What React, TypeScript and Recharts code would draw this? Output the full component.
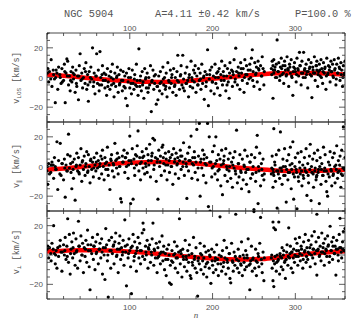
import React from 'react';
import { ComposedChart, Scatter, Line, XAxis, YAxis } from 'recharts';

// position angle of each star (shared by all three panels)
const ANGLES = [
  0, 1, 2, 3, 5, 6, 8, 9, 10, 11, 12, 13, 14,
  16, 17, 18, 20, 21, 22, 23, 24, 25, 26, 27, 28, 29,
  30, 31, 32, 33, 34, 35, 36, 37, 38, 39, 40, 41, 42, 43, 44,
  45, 46, 47, 48, 49, 50, 51, 52, 53, 54, 55, 56, 57, 58, 59, 60,
  61, 62, 63, 64, 65, 66, 67, 68, 69, 70, 71, 72, 73, 74,
  75, 76, 77, 78, 79, 80, 81, 82, 83, 84, 85, 86, 87, 88, 89, 90,
  91, 92, 93, 94, 95, 96, 97, 98, 99, 100, 101, 102, 103, 104,
  105, 106, 107, 108, 109, 110, 111, 112, 113, 114, 115, 116, 117, 118, 119,
  120, 121, 122, 123, 124, 125, 126, 127, 128, 129, 130, 131, 132, 133, 134,
  135, 136, 137, 138, 139, 140, 141, 142, 143, 144, 145, 146, 147, 148, 149, 150,
  151, 152, 153, 154, 155, 156, 157, 158, 159, 160, 161, 162, 163, 164, 165,
  166, 167, 168, 169, 170, 171, 172, 173, 174, 175, 176, 177, 178, 179,
  180, 181, 182, 183, 184, 185, 186, 187, 188, 189, 190, 191, 192, 193, 194, 195, 196, 197,
  198, 199, 200, 201, 202, 203, 204, 205, 206, 207, 208, 209, 210, 211, 212,
  213, 214, 215, 216, 217, 218, 219, 220, 221, 222, 223, 224, 225, 226, 227, 228, 229,
  230, 231, 232, 233, 234, 235, 236, 237, 238, 239, 240, 241, 242, 243, 244, 245,
  246, 247, 248, 249, 250, 251, 252, 253, 254, 255, 256, 257, 258, 259, 260, 261, 262,
  271, 272, 273, 273, 274, 274, 275, 276, 277, 278, 279, 280, 281, 282, 283, 284, 285,
  286, 287, 288, 289, 290, 291, 292, 293, 294, 295, 296, 297, 298, 299, 300,
  301, 302, 303, 304, 305, 306, 307, 308, 309, 310, 311, 312, 313, 314, 315,
  316, 317, 318, 319, 320, 321, 322, 323, 324, 325, 326, 326, 327, 328, 329,
  330, 331, 332, 333, 334, 335, 336, 337, 338, 339, 340, 341, 342, 343, 344, 345,
  346, 347, 348, 349, 350, 351, 352, 353, 354, 355, 356, 357, 358, 359, 360,
];

const V_LOS = [
  30, 6, -3, 4, 12, -6, 2, -1, -17, 5, 3, -8, 7,
  0, -4, 6, -2, 9, -17, 3, 12.5, 11, -5, 1, -9, 4,
  -3, 7, -1, 2, -10, 5, -6, 1, -15, 8, 16, -2, 3, -7, 0,
  6, -4, 10, -8, 2, -16, 4, -3, 7, -1, 20, -6, 3, -11, 1, 16,
  -4, 5, -9, 17.5, 0, -5, 8, -2, 3, -7, 2, -12, 6, -3,
  1, -8, 4, -5, 9, -1, -13, 3, -6, 0, 7, -10, 2, -4, 5, -2,
  -9, 4, -6, 1, -14, 3, -19, -3, 6, -7, 0, -11, 5, -4,
  -8, 2, -5, 9, -2, -12, 19.3, -6, 1, -9, 4, -3, -14, 6, -1,
  -7, 3, -10, 0, -5, 8, -23, -2, 5, -8, -4, 2, -18, -6, -15,
  1, -9, 4, -3, -11, 7, -5, 0, -8, 3, -13, 10, -2, -7, 5, -4,
  2, -10, 6, -6, 0, -12, 4, 15, -3, -8, 1, 8, -5, 15, -1,
  -9, 3, -4, 7, -2, -13, 2, -6, 11, 0, -7, 5, -3, 8,
  -10, 1, -5, 6, -2, 3, -8, 9, -4, 0, -14.7, 4, -6, 2, 18.7, -19, -1, 5,
  -9, 7, -3, 1, -11, 9, -4, 3, -7, 0, 6, -12, 2, 11, -5,
  4, -2, 8, -9, 1, 6, -3, -14, 10, 0, 5, -6, 2, 12, -3, 19.8, 4,
  -5, 7, 1, -8, 10, 3, -2, 6, -10, 12, 2, 8, -4, 5, -1, 9,
  0, 13, 18.7, 4, -6, 10, 2, 7, -3, 11, 5, -8, 8, 1, 14, 6, -5,
  6, 11, -14, 8, 3, 12, 5, 0, 9, 25.3, 4, 10, -2, 7, 13, 2, 8,
  -4, 11, 5, 1, 14, 6, -6, 9, 3, 12, 0, -12, 7, 10, 4,
  -3, 13, 6, 1, 17, 8, -5, 11, 3, 17, 5, 0, 9, 4, -7,
  12, 6, 2, 10, -13.5, 7, 3, 14, -2, 8, 5, 11, -6, 4, 9,
  1, 12, 6, -4, 10, 3, 7, -8, 13, 2, 8, 5, -3, 11, 4, 9,
  0, 12, 6, -5, 9, 3, 13, 7, -2, 10, 5, -6, 8, 2, 11,
];

const V_PAR = [
  -3, -12, 2, -5, 1, 3, -8, 6, 0, -2, 16.7, -15.5, 4,
  15.6, -6, 2, -9, 5, -20.7, 1, -3, 8, 21.8, -1, 7, -4,
  -15, 3, -8, 5, -22.7, 0, 9, -3, 6, -5, 1, 12, -10, 4, -2,
  7, -6, 2, 10, -4, 8, 0, -11, 5, -2, 3, -7, 6, 1, -3, 9,
  -1, 4, -8, 2, 7, -5, 11, 0, -9, 6, -2, 3, 13, -6,
  1, -15.5, 5, 8, -3, 2, -7, 15.6, 4, -1, 9, -5, 6, 0, -21.7, -24,
  7, 3, 11, -4, 6, 0, 9, -8, 4, 20.5, -25, 2, 12, -22,
  5, -6, 8, 1, 14, 24, -3, 6, -9, 3, 10, -1, 7, -5, 2,
  12, -4, 8, 1, 15, -7, 4, 9, 19, -2, 17.8, 6, -10, 3, -22,
  11, 0, 7, -6, 13, 14.5, 2, -3, 9, 5, -9, 1, 10, -4, 6, 0,
  8, -12, 12, 3, -5, 9, 1, 6, -8, 4, 11, -2, 7, 0, 16,
  -6, 5, 2, -21.5, 9, -3, 13, 4, 20.5, -8, 6, 1, 10, -4,
  3, 25, -9, 7, 29, -20, 5, -1, 11, -6, 8, 2, -11, 6, 29, -27, 20, -30,
  3, -7, 10, 0, 14, -5, 20, 4, -9, 8, -2, 5, -13, 11, -19,
  2, 7, -6, 12, 0, -10, 5, -3, 9, -8, 3, -14, 6, -1, 10, -5, 24.5,
  -11, 2, -7, 8, -3, -15, 5, -9, 1, 11, -4, -12, 7, -2, -17, 3,
  -8, 8, -5, 0, -29, 6, -10, 13, 21, -25, -3, 9, -13, 2, -6, 5, -9,
  -5, 7, -2, -14, 25.5, -6, 3, -10, 8, -28, -3, 11, -8, 23.3, -1, -12, 5,
  -6, 12, 0, -24, 4, -9, 8, -4, 13, -15, 2, 16.7, -22, -7, 6,
  -2, -28.5, 9, -10, 3, -5, 10, -13, 1, -8, 6, -3, 12, -19.5, 2,
  -11, 7, 15, -23, -4, 5, -14, 9, -1, -9, 4, -6, 11, -2, -25,
  6, -12, 2, -6, 13, -3, 8, -10, -17, -20, 3, -7, 10, -2, -13, 6,
  -5, 9, -11, 1, 14, -8, 4, -3, 7, -14, 11, -6, 26.7, -1, 6,
];

const V_PERP = [
  4, 6, -2, 5, -4, 8, 20, 1, -6, 3, -9, 5, -1,
  10, 2, -11, 7, 0, 12, -3, 6, 24.7, -5, 14, -13, 4,
  9, -2, 15, 1, -7, 11, 3, -9, 23, 6, -4, 13, 0, 8, -12,
  5, -1, 10, -5, 17, 3, -8, -23.7, 7, 1, 12, -3, 6, -10, 9, 2,
  14, -6, 4, 8, -2, 11, -13, 5, 0, -16.7, 18, 7, -4, -28.7,
  10, 3, -9, 12, 1, 6, -6, 9, 15, -1, 4, -12, 8, 13, -3, 5,
  0, 10, -7, 24, 2, -21, 7, -2, 11, 3, -8, -26.4, 6, 14,
  -4, 9, 1, -11, 5, 12, -2, 8, -6, 3, 15, 21.8, 17.3, -3, 6,
  0, 10, -9, 4, 7, -5, 2, 11, 21.8, -7, 3, -2, 8, -12, 5,
  -1, 9, -6, 2, 13, -4, 6, -10, 1, -14, 4, -3, 7, -19, -7, -20,
  3, -5, 0, 9, -9, -2, 6, -12, 2, 24.7, -6, 1, -15, 4, -3,
  -8, 10, -1, -11, 3, -5, 7, -14, -16, 1, -7, 12, -3, -9,
  5, -12, -28, -2, -6, 8, -10, 0, -4, -13, 6, -8, 2, -15, -5, 3, -9, -1,
  -19.3, 4, -7, -12, 2, -4, -10, 7, -3, -14, 0, 26, -6, -11, 3,
  -8, 10, -2, -13, 5, -5, -9, 1, -16, -19, 8, -4, -11, 2, -7, 27.8, -3,
  -9, 4, -12, -1, -6, 9, -14, 0, -5, -10, 3, -8, -2, 11, -7, -23.7,
  -4, 6, -11, -2, 29.6, -9, 4, -14, -5, 1, -8, 8, 25.6, -3, -12, 2, -17.5,
  -2, -9, -17.5, 22.5, 18.5, -21.5, -6, 17.3, -11, 0, -4, 22.5, -13, -1, -8, 5, -10,
  3, -5, -16, -3, 7, -7, 18.5, -2, 6, -9, 2, -12, 4, -5, 11,
  -1, 8, -7, 3, 12, -4, 6, 0, -9, 9, 2, 14, -5, 5, -3,
  10, 1, -8, 7, 13, -2, 4, 16, -6, 9, 27.8, -13.7, 3, 12, -1,
  6, -4, 15, 2, 8, -7, 11, 4, -1, 13, 7, -5, 19.6, 3, 9, -3,
  12, 1, 6, -13.7, 10, 4, -4, 14, 25, 5, -2, 9, 16, 3, 18,
];

// the dense core of stars sitting close to the fitted curves
const CORE_ANGLES = [
  0.5, 4.5, 7.5, 10.5, 15.5, 18.5, 21.5, 24.5,
  28.5, 31.5, 35.5, 38.5, 42.5, 46.5, 49.5, 52.5,
  56.5, 59.5, 63.5, 66.5, 70.5, 73.5, 77.5, 80.5,
  84.5, 87.5, 91.5, 94.5, 98.5, 101.5, 105.5, 108.5,
  112.5, 115.5, 119.5, 122.5, 126.5, 129.5, 133.5, 136.5,
  140.5, 143.5, 147.5, 150.5, 154.5, 157.5, 161.5, 164.5,
  168.5, 171.5, 175.5, 178.5, 182.5, 185.5, 189.5, 192.5,
  196.5, 199.5, 203.5, 206.5, 210.5, 213.5, 217.5, 220.5,
  224.5, 227.5, 231.5, 234.5, 238.5, 241.5, 245.5, 248.5,
  252.5, 255.5, 259.5, 262.5, 271.5, 273.5, 275.5, 277.5,
  279.5, 281.5, 283.5, 285.5, 287.5, 289.5, 291.5, 293.5,
  295.5, 297.5, 299.5, 301.5, 303.5, 305.5, 307.5, 309.5,
  311.5, 313.5, 315.5, 317.5, 319.5, 321.5, 323.5, 325.5,
  327.5, 329.5, 331.5, 333.5, 335.5, 337.5, 339.5, 341.5,
  343.5, 345.5, 347.5, 349.5, 351.5, 353.5, 355.5, 357.5,
  359.5,
];

const CORE_LOS = [
  3, -1, 5, 0, 2, -3, 4, 1,
  -2, 3, -4, 1, -1, 4, -5, 0,
  -3, 1, -5, 2, -2, -6, 0, -4,
  1, -5, -2, -7, 0, -4, -1, -6,
  -2, -5, 0, -7, -3, 1, -6, -4,
  -1, -6, -3, 0, -5, -2, 2, -7,
  -4, 0, -2, 3, -5, -1, 1, -3,
  2, -3, 0, 4, -2, 1, -5, 3,
  4, -1, 3, 6, 0, 2, 5, -2,
  3, 6, 1, 4, 2, 5, 7, 0,
  4, 1, 6, 3, 8, 2, 5, 7,
  1, 4, 6, 2, 5, 8, 3, 0,
  6, 2, 4, 7, 1, 5, 3, 8,
  2, 5, 0, 4, 6, 1, 3, 7,
  4, 1, 5, -1, 3, 6, 2, 0,
  3,
];

const CORE_PAR = [
  0, -4, 1, -2, -5, 2, -1, -3,
  2, -2, 1, -4, 3, 0, -3, 4,
  -1, 3, 0, 5, 2, -2, 4, 1,
  5, 0, 3, 6, 1, 4, -1, 7,
  2, 6, 0, 4, 7, 1, 5, 3,
  6, 1, 4, 0, 5, 2, 7, 3,
  0, 4, 2, 6, -1, 3, 5, 1,
  3, -1, 2, -3, 1, 4, -2, 0,
  1, -3, 2, -4, 0, -2, 3, -5,
  -4, 0, -2, -5, -1, -4, 1, -3,
  -5, -1, -3, 0, -6, -2, -4, 1,
  -2, -5, 0, -4, -7, -1, -3, -6,
  -1, -4, -6, -2, 0, -5, -3, -7,
  -4, 0, -2, -6, -1, -3, -5, 1,
  -3, -6, 0, -2, -4, 1, -5, -1,
  -2,
];

const CORE_PERP = [
  5, 1, 4, 0, 6, 2, 3, -1,
  1, 5, 2, 6, 0, 4, 7, 3,
  6, 1, 4, 2, 5, 0, 3, 7,
  0, 4, 2, 6, 1, 5, -1, 3,
  3, -1, 2, 5, 0, 4, -2, 1,
  2, -3, 0, -4, 1, -2, 3, -1,
  -3, 0, -5, -1, -4, 1, -2, -6,
  0, -4, -2, -6, -1, -5, -3, 1,
  -5, -1, -4, -7, -2, 0, -6, -3,
  -4, -1, -6, -2, 0, -4, -1, -5,
  -3, 1, -2, 0, -4, 2, -1, 1,
  2, -2, 0, 3, -1, 1, 4, -3,
  3, -1, 2, 5, 0, 4, 1, 3,
  4, 0, 2, 5, 1, 3, 6, -1,
  3, 6, 1, 4, 0, 5, 2, 4,
  3,
];

// fitted curves, read every 20 degrees
const FIT_N = [0, 20, 40, 60, 80, 100, 120, 140, 160, 180, 200, 220, 240, 260, 280, 300, 320, 340, 360];
const FIT_LOS = [2, 1.2, 0.2, -0.9, -1.8, -2.5, -2.9, -3, -2.7, -1.9, -0.9, 0.2, 1.3, 2.2, 2.8, 3, 3, 2.6, 2];
const FIT_PAR = [-2.2, -1.4, -0.3, 0.8, 1.8, 2.5, 2.9, 3, 2.7, 2, 1, -0.1, -1.2, -2.1, -2.8, -3.1, -3, -2.7, -2.2];
const FIT_PERP = [2.3, 2.9, 3.2, 3.2, 2.9, 2.3, 1.5, 0.5, -0.6, -1.6, -2.4, -2.9, -3.1, -2.8, -1.6, -0.1, 1, 1.9, 2.5];

const X_TICKS = [0, 20, 40, 60, 80, 100, 120, 140, 160, 180, 200, 220, 240, 260, 280, 300, 320, 340, 360];
const Y_TICKS = [-30, -25, -20, -15, -10, -5, 0, 5, 10, 15, 20, 25, 30];

const W = 352;
const H = 320;
const FRAME = '#333';
const TEXT = '#555';
const MONO = '"Liberation Mono", "DejaVu Sans Mono", monospace';
const SANS = '"Liberation Sans", Arial, sans-serif';

const Dot = (p: any) => <circle cx={p.cx} cy={p.cy} r={1.6} fill="#000" />;

const xTick = (side: 'top' | 'bottom', labels: boolean) => (p: any) => {
  const v = p.payload.value;
  const major = v % 100 === 0;
  const len = major ? 6 : 3;
  const dir = side === 'bottom' ? -1 : 1;
  return (
    <g>
      <line x1={p.x} y1={p.y} x2={p.x} y2={p.y + dir * len} stroke={FRAME} strokeWidth={0.8} />
      {labels && major && v > 0 && v < 360 ? (
        <text x={p.x} y={side === 'bottom' ? p.y + 11 : p.y - 2} textAnchor="middle" fontSize={8} fill={TEXT} fontFamily={SANS}>
          {v}
        </text>
      ) : null}
    </g>
  );
};

const yTick = (side: 'left' | 'right') => (p: any) => {
  const v = p.payload.value;
  const major = v % 20 === 0;
  const len = major ? 6 : 3;
  const dir = side === 'left' ? 1 : -1;
  return (
    <g>
      <line x1={p.x} y1={p.y} x2={p.x + dir * len} y2={p.y} stroke={FRAME} strokeWidth={0.8} />
      {side === 'left' && major && Math.abs(v) < 30 ? (
        <text x={p.x - 4} y={p.y + 3} textAnchor="end" fontSize={8} fill={TEXT} fontFamily={SANS}>
          {v < 0 ? `\u2212${-v}` : v}
        </text>
      ) : null}
    </g>
  );
};

type PanelProps = {
  values: number[];
  core: number[];
  fit: number[];
  top: number;
  height: number;
  topLabels?: boolean;
  bottomLabels?: boolean;
};

function Panel({ values, core, fit, top, height, topLabels = false, bottomLabels = false }: PanelProps) {
  const pts = [
    ...ANGLES.map((n, i) => ({ n, v: values[i] })),
    ...CORE_ANGLES.map((n, i) => ({ n, v: core[i] })),
  ];
  const curve = FIT_N.map((n, i) => ({ n, v: fit[i] }));
  // axes are 1px thick boxes, so margins are one pixel short of the frame
  return (
    <div style={{ position: 'absolute', left: 0, top: 0 }}>
      <ComposedChart
        width={W}
        height={H}
        margin={{ top: top - 1, bottom: H - top - height - 1, left: 46, right: 6 }}
      >
        <XAxis
          xAxisId="b"
          type="number"
          dataKey="n"
          domain={[0, 360]}
          ticks={X_TICKS}
          interval={0}
          allowDataOverflow
          orientation="bottom"
          height={1}
          tickSize={0}
          tickMargin={0}
          axisLine={{ stroke: FRAME, strokeWidth: 0.9 }}
          tickLine={false}
          tick={xTick('bottom', bottomLabels)}
        />
        <XAxis
          xAxisId="t"
          type="number"
          dataKey="n"
          domain={[0, 360]}
          ticks={X_TICKS}
          interval={0}
          allowDataOverflow
          orientation="top"
          height={1}
          tickSize={0}
          tickMargin={0}
          axisLine={{ stroke: FRAME, strokeWidth: 0.9 }}
          tickLine={false}
          tick={xTick('top', topLabels)}
        />
        <YAxis
          yAxisId="l"
          type="number"
          dataKey="v"
          domain={[-30, 30]}
          ticks={Y_TICKS}
          interval={0}
          allowDataOverflow
          orientation="left"
          width={1}
          tickSize={0}
          tickMargin={0}
          axisLine={{ stroke: FRAME, strokeWidth: 0.9 }}
          tickLine={false}
          tick={yTick('left')}
        />
        <YAxis
          yAxisId="r"
          type="number"
          dataKey="v"
          domain={[-30, 30]}
          ticks={Y_TICKS}
          interval={0}
          allowDataOverflow
          orientation="right"
          width={1}
          tickSize={0}
          tickMargin={0}
          axisLine={{ stroke: FRAME, strokeWidth: 0.9 }}
          tickLine={false}
          tick={yTick('right')}
        />
        <Scatter
          data={pts}
          dataKey="v"
          xAxisId="b"
          yAxisId="l"
          shape={Dot}
          isAnimationActive={false}
        />
        <Line
          data={curve}
          dataKey="v"
          xAxisId="b"
          yAxisId="l"
          type="monotone"
          stroke="#ff0000"
          strokeWidth={4.5}
          dot={false}
          activeDot={false}
          isAnimationActive={false}
        />
      </ComposedChart>
    </div>
  );
}

function AxisTitle({ cy, sub }: { cy: number; sub: string }) {
  return (
    <text
      transform={`translate(19, ${cy}) rotate(-90)`}
      textAnchor="middle"
      fontSize={8.5}
      fill={TEXT}
      fontFamily={MONO}
    >
      v
      <tspan fontSize={6} dy={2}>{sub}</tspan>
      <tspan dy={-2}> [km/s]</tspan>
    </text>
  );
}

export default function App() {
  return (
    <div style={{ position: 'absolute', left: 0, top: 0, width: W, height: H, background: '#fff' }}>
      <Panel values={V_LOS} core={CORE_LOS} fit={FIT_LOS} top={33} height={89} topLabels />
      <Panel values={V_PAR} core={CORE_PAR} fit={FIT_PAR} top={122} height={89} />
      <Panel values={V_PERP} core={CORE_PERP} fit={FIT_PERP} top={211} height={88} bottomLabels />
      <svg width={W} height={H} style={{ position: 'absolute', left: 0, top: 0, pointerEvents: 'none' }}>
        <text x={64} y={17} fontSize={10.3} fill={TEXT} fontFamily={MONO}>NGC 5904</text>
        <text x={155} y={17} fontSize={10.3} fill={TEXT} fontFamily={MONO}>A=4.11 ±0.42 km/s</text>
        <text x={295} y={17} fontSize={10.3} fill={TEXT} fontFamily={MONO}>P=100.0 %</text>
        <AxisTitle cy={78} sub="LOS" />
        <AxisTitle cy={166} sub="∥" />
        <AxisTitle cy={252} sub="⊥" />
        <text x={196} y={318} textAnchor="middle" fontSize={9} fontStyle="italic" fill={TEXT} fontFamily='"Liberation Serif", serif'>n</text>
      </svg>
    </div>
  );
}
